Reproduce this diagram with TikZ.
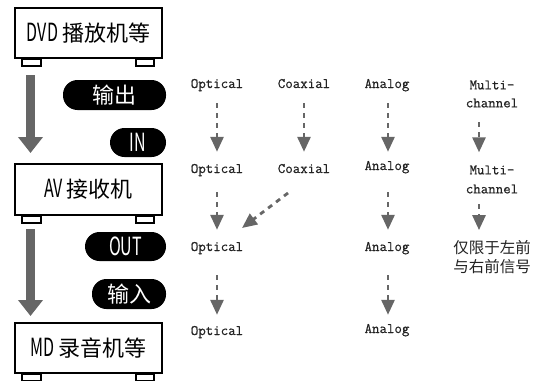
\documentclass[tikz,border=0pt]{standalone}
\usepackage{fontspec}
\newfontfamily\cjk{Noto Sans CJK SC}
\newfontfamily\cjklat[FakeStretch=0.64]{Noto Sans CJK SC}
\newfontfamily\monof[FakeBold=0.6]{Latin Modern Mono}
\usetikzlibrary{arrows.meta}
\definecolor{arrgray}{HTML}{666666}
\definecolor{txtgray}{HTML}{222222}
\tikzset{
  devbox/.style={draw=black, line width=1.6pt, fill=white, minimum width=147pt, minimum height=50pt, inner sep=0pt, font=\cjk\fontsize{22}{22}\selectfont},
  foot/.style={draw=black, line width=1.6pt, fill=white},
  pill/.style={fill=black, text=white, rounded corners=14.5pt, minimum height=30pt, inner sep=0pt, font=\cjk\fontsize{22}{22}\selectfont},
  bigarrow/.style={draw=arrgray, line width=9pt, -{Triangle[width=24pt,length=16pt]}},
  lbl/.style={inner sep=0pt, text=txtgray, font=\monof\fontsize{14.5}{18}\selectfont, text height=8.5pt, text depth=2.5pt},
  lbltwo/.style={inner sep=0pt, text=txtgray, font=\monof\fontsize{14.5}{18}\selectfont, align=center},
  note/.style={inner sep=0pt, text=txtgray, font=\cjk\fontsize{15.5}{19}\selectfont, align=center},
  dar/.style={draw=arrgray, line width=2.8pt, dash pattern=on 5pt off 5pt, -{Triangle[width=13pt,length=15pt]}},
}
\newcommand{\lat}[1]{{\cjklat\fontsize{25}{25}\selectfont #1}}
\begin{document}
\begin{tikzpicture}[x=1pt,y=-1pt]
\useasboundingbox (0,0) rectangle (540,380);
\begin{scope}
\clip (0,0) rectangle (540,380);
% devices
\node[devbox] (dvd) at (88.5,33) {\lat{DVD}\hspace{4pt}播放机等};
\node[devbox, minimum height=51pt] (av) at (88.5,189.5) {\raisebox{-3pt}{\lat{AV}\hspace{4pt}接收机}};
\node[devbox] (md) at (88.5,348) {\lat{MD}\hspace{4pt}录音机等};
% feet
\foreach \b in {dvd,av,md}{
  \draw[foot] ([xshift=8pt]\b.south west) rectangle ++(19,7);
  \draw[foot] ([xshift=-9pt]\b.south east) rectangle ++(-18,7);
}
% big arrows
\coordinate (b1s) at (30.5,75);
\coordinate (b1e) at (30.5,153);
\coordinate (b2s) at (30.5,229);
\coordinate (b2e) at (30.5,316);
\draw[bigarrow] (b1s) -- (b1e);
\draw[bigarrow] (b2s) -- (b2e);
% pills
\node[pill, minimum width=103pt] (pout1) at (114.5,95) {输出};
\node[pill, minimum width=56pt, minimum height=29pt] (pin1) at (138,142.5) {\lat{IN}};
\node[pill, minimum width=81pt, minimum height=29pt] (pout2) at (125.5,246.5) {\lat{OUT}};
\node[pill, minimum width=74pt] (pin2) at (129,294) {输入};
% labels
\node[lbl] (o1) at (217,85) {Optical};
\node[lbl] (c1) at (304,85) {Coaxial};
\node[lbl] (a1) at (387,85) {Analog};
\node[lbltwo] (m1) at (492,94) {Multi-\\channel};
\node[lbl] (o2) at (217,170) {Optical};
\node[lbl] (c2) at (304,170) {Coaxial};
\node[lbl] (a2) at (387,167) {Analog};
\node[lbltwo, font=\monof\fontsize{14.5}{19}\selectfont] (m2) at (492,179.5) {Multi-\\channel};
\node[lbl] (o3) at (217,248) {Optical};
\node[lbl] (a3) at (387,248) {Analog};
\node[note] (n3) at (492,257.5) {仅限于左前\\与右前信号};
\node[lbl] (o4) at (217,332) {Optical};
\node[lbl] (a4) at (387,330) {Analog};
% dashed arrows
\draw[dar, shorten <=12.5pt, shorten >=12.5pt] (o1) -- (o2);
\draw[dar, shorten <=12.5pt, shorten >=12.5pt] (c1) -- (c2);
\draw[dar, shorten <=12.5pt, shorten >=9.5pt] ([xshift=1pt]a1.south) -- ([xshift=1pt]a2.north);
\draw[dar, shorten <=14.5pt, shorten >=13pt] ([xshift=-13pt]m1.south) -- ([xshift=-13pt]m2.north);
\draw[dar, shorten <=16.5pt, shorten >=12.5pt] (o2) -- (o3);
\coordinate (cd1) at (288,193);
\coordinate (cd2) at (242,228);
\draw[dar] (cd1) -- (cd2);
\draw[dar, shorten <=19.5pt, shorten >=12.5pt] ([xshift=1pt]a2.south) -- ([xshift=1pt]a3.north);
\draw[dar, shorten <=10.5pt, shorten >=10.5pt] ([xshift=-13pt]m2.south) -- ([xshift=-13pt]n3.north);
\draw[dar, shorten <=21.5pt, shorten >=11.5pt] (o3) -- (o4);
\draw[dar, shorten <=21.5pt, shorten >=9.5pt] ([xshift=1pt]a3.south) -- ([xshift=1pt]a4.north);
\end{scope}
\end{tikzpicture}
\end{document}
